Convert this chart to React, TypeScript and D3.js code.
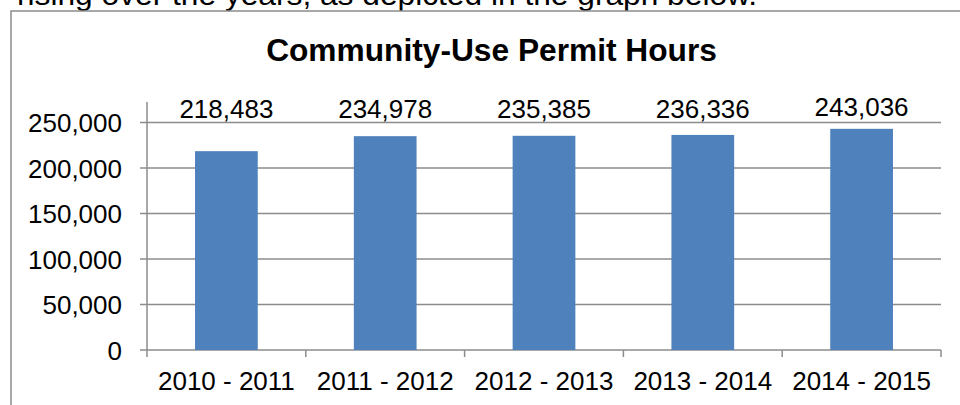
import React from "react";
import * as d3 from "d3";

const categories = ["2010 - 2011", "2011 - 2012", "2012 - 2013", "2013 - 2014", "2014 - 2015"];
const values = [218483, 234978, 235385, 236336, 243036];
const yTicks = [0, 50000, 100000, 150000, 200000, 250000];
const title = "Community-Use Permit Hours";
const leadText = "rising over the years, as depicted in the graph below.";

const W = 960;
const H = 405;
const FONT = "'Liberation Sans', Arial, Helvetica, sans-serif";

export default function App() {
  const plotLeft = 147;
  const plotRight = 941;
  const plotTop = 102;
  const x = d3.scaleBand<string>().domain(categories).range([plotLeft, plotRight]).padding(0);
  const y = d3.scaleLinear().domain([0, 250000]).range([350, 122.5]);
  const barW = x.bandwidth() * 0.395;
  const fmt = d3.format(",");
  const grid = "#8c8c8c";
  const boundaries = categories.map((c) => x(c) as number).concat([plotRight]);

  return (
    <svg
      width={W}
      height={H}
      style={{ position: "absolute", left: 0, top: 0, background: "#fff" }}
      fontFamily={FONT}
    >
      <rect x={0} y={0} width={W} height={H} fill="#fff" />
      <text x={17} y={5} fontSize={30} textLength={740} lengthAdjust="spacingAndGlyphs" fill="#000">
        {leadText}
      </text>
      <rect x={11} y={11} width={1000} height={500} fill="#fff" stroke={grid} strokeWidth={1.5} />
      <text x={491.5} y={61} fontSize={31.7} fontWeight="bold" textAnchor="middle" fill="#000">
        {title}
      </text>
      {yTicks.map((t) => (
        <g key={t}>
          <line x1={140} x2={plotRight} y1={y(t)} y2={y(t)} stroke={grid} strokeWidth={1.5} />
          <text x={122} y={y(t)} dy="0.38em" fontSize={26} textAnchor="end" fill="#000">
            {fmt(t)}
          </text>
        </g>
      ))}
      <line x1={plotLeft} x2={plotLeft} y1={plotTop} y2={y(0)} stroke={grid} strokeWidth={1.5} />
      {boundaries.map((b, i) => (
        <line key={i} x1={b} x2={b} y1={y(0)} y2={y(0) + 7} stroke={grid} strokeWidth={1.5} />
      ))}
      {categories.map((c, i) => {
        const cx = (x(c) as number) + x.bandwidth() / 2;
        const v = values[i];
        return (
          <g key={c}>
            <rect x={cx - barW / 2} y={y(v)} width={barW} height={y(0) - y(v)} fill="#4f81bd" />
            <text x={cx} y={Math.min(y(v) - 13, 118)} fontSize={26} textAnchor="middle" fill="#000">
              {fmt(v)}
            </text>
            <text x={cx} y={390} fontSize={26} textAnchor="middle" fill="#000">
              {c}
            </text>
          </g>
        );
      })}
    </svg>
  );
}
